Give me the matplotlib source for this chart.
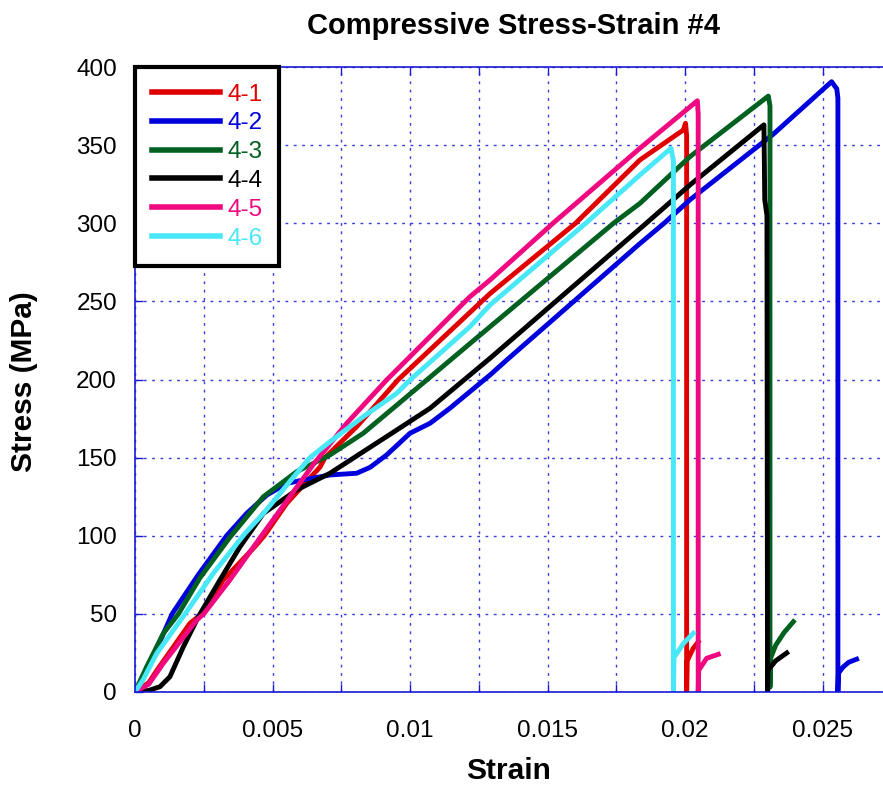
import matplotlib
matplotlib.use("Agg")
import matplotlib.pyplot as plt
from matplotlib.ticker import FixedLocator

plt.rcParams['font.family'] = ['Liberation Sans', 'DejaVu Sans']

# Specimen 4-1
strain_4_1 = [0, 0.0005, 0.0008, 0.0020, 0.00243, 0.00321, 0.00436, 0.0047, 0.00552, 0.00673,
              0.00691, 0.00806, 0.00956, 0.01291, 0.01602, 0.01836, 0.01994, 0.02002, 0.02006,
              0.02006, 0.02008, 0.0203, 0.02048]
stress_4_1 = [0, 6, 14, 44, 50, 71.7, 93, 100, 120.8, 144,
              150, 169.8, 199.7, 255, 300, 340.5, 359.7, 364, 356,
              0, 20, 28, 32]

# Specimen 4-2
strain_4_2 = [0, 0.0002, 0.00055, 0.00135, 0.0023, 0.00333, 0.00406, 0.00479, 0.00552, 0.00612,
              0.00709, 0.00806, 0.00855, 0.00915, 0.0100, 0.01073, 0.01145, 0.01291, 0.01352,
              0.01836, 0.01924, 0.02018, 0.02321, 0.02533, 0.02552, 0.02556, 0.02556, 0.02558,
              0.02575, 0.02595, 0.02624]
stress_4_2 = [0, 6, 18, 50, 75, 100, 114.3, 126, 133.5, 135.7,
              138.9, 140, 143.8, 151.7, 165.6, 172, 181.6, 202.9, 212.5,
              287, 300, 315, 357, 390.6, 386, 380, 0, 12,
              16, 19, 21]

# Specimen 4-3
strain_4_3 = [0, 0.00042, 0.00103, 0.00158, 0.00236, 0.00345, 0.00467, 0.00588, 0.00709, 0.0083,
              0.00952, 0.01073, 0.01218, 0.0174, 0.01836, 0.02018, 0.02303, 0.02309, 0.02309,
              0.02312, 0.0233, 0.0236, 0.02394]
stress_4_3 = [0, 16, 37.5, 50, 73, 99, 125, 141, 151.7, 165.6,
              183.6, 201.5, 223, 300, 312.7, 342.6, 381.4, 375, 3,
              22, 30, 38, 45]

# Specimen 4-4
strain_4_4 = [0, 0.0005, 0.00091, 0.00127, 0.00176, 0.0023, 0.00309, 0.00382, 0.00467, 0.00588,
              0.00709, 0.0083, 0.00952, 0.01073, 0.01291, 0.01859, 0.02018, 0.02287, 0.0229,
              0.02298, 0.0230, 0.02302, 0.0233, 0.0237]
stress_4_4 = [0, 1, 3.4, 9.8, 29, 48, 71.7, 93, 114.3, 129.3,
              140, 153.8, 167.7, 181.6, 213.6, 300, 324.5, 363, 315,
              305, 0, 14, 20, 25]

# Specimen 4-5
strain_4_5 = [0, 0.0005, 0.00103, 0.00224, 0.0025, 0.00345, 0.0046, 0.0065, 0.0077, 0.00915,
              0.01218, 0.01291, 0.0152, 0.01836, 0.02045, 0.02048, 0.02048, 0.0205, 0.02079,
              0.02121]
stress_4_5 = [0, 5, 18.4, 46, 50, 71.7, 100, 146, 172, 199.7,
              253, 263.7, 300, 348, 378.4, 370, 0, 14, 21.6,
              24.1]

# Specimen 4-6
strain_4_6 = [0, 0.0003, 0.00079, 0.00182, 0.00285, 0.0040, 0.00467, 0.00588, 0.00636, 0.00709,
              0.0083, 0.00952, 0.0100, 0.01218, 0.01291, 0.01639, 0.01836, 0.01949, 0.01958,
              0.01958, 0.0196, 0.01994, 0.0203]
stress_4_6 = [0, 8, 24.7, 50, 76, 101.5, 114.3, 140, 150, 160.2,
              176.2, 191.2, 199.7, 233.8, 247.7, 300, 330.9, 348, 340,
              0, 22, 31, 37.6]

labels = ['4-1', '4-2', '4-3', '4-4', '4-5', '4-6']
colors = ['#e00000', '#0000dd', '#006020', '#000000', '#f00880', '#48e8f8']
series = [(strain_4_1, stress_4_1), (strain_4_2, stress_4_2), (strain_4_3, stress_4_3),
          (strain_4_4, stress_4_4), (strain_4_5, stress_4_5), (strain_4_6, stress_4_6)]

x_ticks = [0, 0.005, 0.01, 0.015, 0.02, 0.025]
x_tick_labels = ['0', '0.005', '0.01', '0.015', '0.02', '0.025']
x_minor = [0.0025, 0.0075, 0.0125, 0.0175, 0.0225]
y_ticks = [0, 50, 100, 150, 200, 250, 300, 350, 400]

W, H = 883, 787
fig = plt.figure(figsize=(W / 100, H / 100), dpi=100)
ax = fig.add_axes([135 / W, 95 / H, (W - 135) / W, 625 / H])

for (sx, sy), lab, c in zip(series, labels, colors):
    ax.plot(sx, sy, color=c, lw=3.5, label=lab, solid_joinstyle='round')

ax.set_xlim(0, 0.0272)
ax.set_ylim(0, 400)

axis_blue = '#1a1ad6'
ax.xaxis.set_major_locator(FixedLocator(x_ticks))
ax.xaxis.set_minor_locator(FixedLocator(x_minor))
ax.set_xticklabels(x_tick_labels)
ax.yaxis.set_major_locator(FixedLocator(y_ticks))
ax.tick_params(axis='both', which='both', direction='in', color=axis_blue, length=6,
               width=1, labelsize=17.5, top=True)
ax.tick_params(axis='x', pad=20)
ax.tick_params(axis='y', pad=13)

ax.grid(True, which='both', axis='x', color='#3a3ae0', lw=1, linestyle=(0, (2, 4)))
ax.grid(True, which='major', axis='y', color='#3a3ae0', lw=1, linestyle=(0, (2, 4)))
ax.set_axisbelow(True)

for side in ['left', 'bottom', 'top']:
    ax.spines[side].set_color(axis_blue)
    ax.spines[side].set_linewidth(1.2)
ax.spines['right'].set_visible(False)

fig.text((305 + 722) / 2 / W, 1 - 26 / H, 'Compressive Stress-Strain #4',
         ha='center', va='center', fontsize=21, fontweight='bold')
fig.text((135 + W) / 2 / W, 1 - 771 / H, 'Strain', ha='center', va='center',
         fontsize=21.5, fontweight='bold')
fig.text(24 / W, 1 - 382 / H, 'Stress (MPa)', ha='center', va='center', rotation=90,
         fontsize=21.5, fontweight='bold')

leg = ax.legend(loc='upper left', bbox_to_anchor=(0, 1), borderaxespad=0, fontsize=17.5,
                handlelength=2.8, handletextpad=0.32, labelspacing=0.28, fancybox=False,
                framealpha=1, edgecolor='black', borderpad=0.68)
leg.get_frame().set_linewidth(3)
for txt, c in zip(leg.get_texts(), colors):
    txt.set_color(c)
for ln in leg.get_lines():
    ln.set_linewidth(4)

fig.savefig('out.png', dpi=100)
